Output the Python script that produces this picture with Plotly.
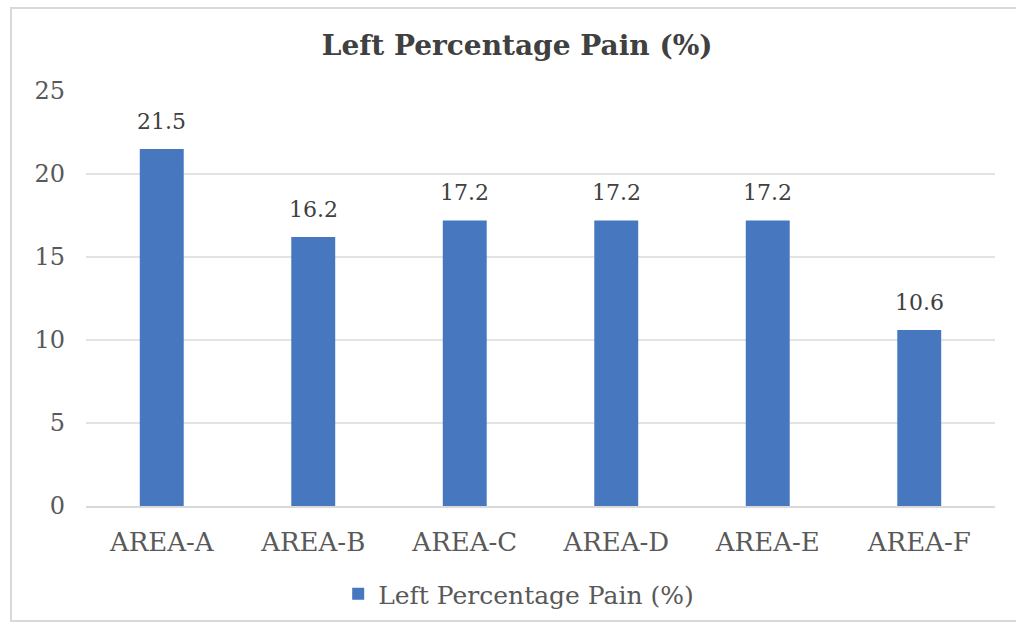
import plotly.graph_objects as go

# Chart data
categories = ["AREA-A", "AREA-B", "AREA-C", "AREA-D", "AREA-E", "AREA-F"]
pain_values = [21.5, 16.2, 17.2, 17.2, 17.2, 10.6]
series_name = "Left Percentage Pain (%)"
y_ticks = [0, 5, 10, 15, 20, 25]

BAR_COLOR = "#4677BF"
TEXT_COLOR = "#595959"
FONT = "DejaVu Serif"

fig = go.Figure()
fig.add_trace(go.Bar(
    x=categories,
    y=pain_values,
    name=series_name,
    marker=dict(color=BAR_COLOR, line=dict(width=0)),
    showlegend=True,
))

# Value labels above each bar
for cat, val in zip(categories, pain_values):
    fig.add_annotation(
        x=cat, y=val, text=f"{val:.1f}",
        xref="x", yref="y",
        showarrow=False, yanchor="bottom", yshift=13,
        font=dict(family=FONT, size=22, color="#404040"),
    )

# Outer chart frame (open on the right edge)
fig.add_shape(
    type="rect", xref="paper", yref="paper",
    x0=-0.0825, x1=1.08, y0=-0.277, y1=1.2,
    line=dict(color="#d9d9d9", width=2),
    fillcolor="rgba(0,0,0,0)", layer="below",
)

fig.update_layout(
    width=1016, height=624,
    margin=dict(l=86, r=21, t=91, b=118),
    paper_bgcolor="white",
    plot_bgcolor="white",
    bargap=0.71,
    title=dict(
        text="<b>Left Percentage Pain (%)</b>",
        x=0.509, xanchor="center",
        y=0.928, yanchor="middle", yref="container",
        font=dict(family=FONT, size=28, color="#404040"),
    ),
    font=dict(family=FONT, color=TEXT_COLOR),
    xaxis=dict(
        showgrid=False,
        showline=True, linecolor="#d9d9d9", linewidth=1.5,
        ticks="",
        tickfont=dict(family=FONT, size=26, color=TEXT_COLOR),
        ticklabelstandoff=12,
        automargin=False,
    ),
    yaxis=dict(
        range=[0, 25],
        tickvals=y_ticks,
        showgrid=True, gridcolor="#e3e3e3", gridwidth=1.5,
        zeroline=False,
        showline=False,
        ticks="",
        tickfont=dict(family=FONT, size=24, color=TEXT_COLOR),
        ticklabelstandoff=20,
        automargin=False,
    ),
    legend=dict(
        orientation="h",
        x=0.476, xanchor="center",
        y=0.048, yanchor="middle", yref="container",
        font=dict(family=FONT, size=25, color=TEXT_COLOR),
        bgcolor="rgba(0,0,0,0)",
    ),
)

fig.write_html("out.html")
